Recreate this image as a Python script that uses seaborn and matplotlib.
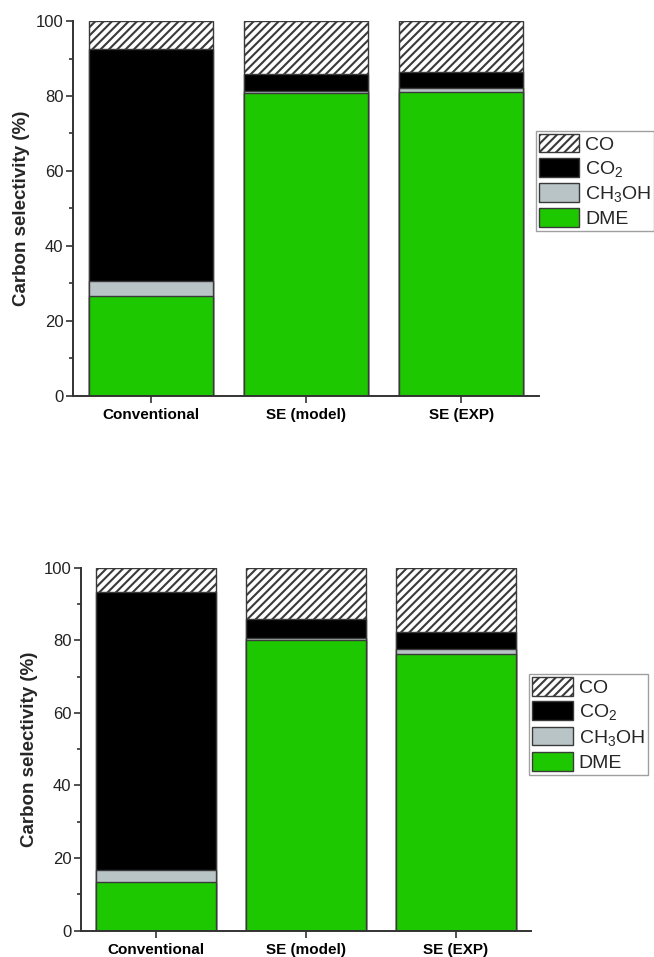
import numpy as np
import pandas as pd
import matplotlib
matplotlib.use('Agg')
import matplotlib.pyplot as plt
from matplotlib.patches import Patch
from matplotlib.ticker import MultipleLocator
import seaborn as sns

# data (carbon selectivity, %)
categories = ['Conventional', 'SE (model)', 'SE (EXP)']
species = ['CO', 'CO$_2$', 'CH$_3$OH', 'DME']

# upper panel
dme_top = [26.6, 80.7, 81.0]
meoh_top = [3.9, 0.5, 1.1]
co2_top = [62.1, 4.8, 4.2]
co_top = [7.4, 14.0, 13.7]

# lower panel
dme_bot = [13.3, 80.1, 76.1]
meoh_bot = [3.4, 0.4, 1.4]
co2_bot = [76.5, 5.4, 4.8]
co_bot = [6.8, 14.1, 17.7]

green = '#1ec800'
grey = '#b8c4c6'
edge = '#3a3a3a'

sns.set_style('ticks')
plt.rcParams['font.family'] = ['Liberation Sans', 'DejaVu Sans']
plt.rcParams['mathtext.default'] = 'regular'
plt.rcParams['hatch.linewidth'] = 1.5
plt.rcParams['hatch.color'] = 'black'


def draw_panel(ax, dme, meoh, co2, co):
    df = pd.DataFrame({'cat': categories, 'DME': dme, 'CH3OH': meoh,
                       'CO2': co2, 'CO': co})
    # cumulative heights, drawn from the tallest layer down
    df['c1'] = df['DME']
    df['c2'] = df['c1'] + df['CH3OH']
    df['c3'] = df['c2'] + df['CO2']
    df['c4'] = df['c3'] + df['CO']
    layers = [('c4', 'white', '////'), ('c3', 'black', None),
              ('c2', grey, None), ('c1', green, None)]
    for col, fc, hatch in layers:
        n0 = len(ax.patches)
        sns.barplot(data=df, x='cat', y=col, color=fc, saturation=1,
                    width=0.8, edgecolor=edge, linewidth=1.0, ax=ax)
        if hatch:
            for p in ax.patches[n0:]:
                p.set_hatch(hatch)
    ax.set_xlim(-0.5, 2.5)
    ax.set_ylim(0, 100)
    ax.yaxis.set_major_locator(MultipleLocator(20))
    ax.yaxis.set_minor_locator(MultipleLocator(10))
    ax.tick_params(axis='y', which='major', labelsize=12, length=5,
                   width=1.2, colors='#333333', direction='out', pad=2)
    ax.tick_params(axis='y', which='minor', length=3, width=1.2,
                   colors='#333333', direction='out')
    ax.tick_params(axis='x', length=5, width=1.2, colors='#333333',
                   labelsize=11, pad=4)
    for t in ax.get_xticklabels():
        t.set_fontweight('bold')
        t.set_color('black')
    for t in ax.get_yticklabels():
        t.set_color('#222222')
    ax.set_xlabel('')
    ax.set_ylabel('Carbon selectivity (%)', fontsize=13.5,
                  fontweight='bold', labelpad=4)
    for s in ['top', 'right']:
        ax.spines[s].set_visible(False)
    for s in ['left', 'bottom']:
        ax.spines[s].set_linewidth(1.4)
        ax.spines[s].set_color('#333333')


fig = plt.figure(figsize=(6.54, 9.57), dpi=100)
ax1 = fig.add_axes([0.1116, 0.5865, 0.7125, 0.3915])
ax2 = fig.add_axes([0.1239, 0.0275, 0.688, 0.3793])

draw_panel(ax1, dme_top, meoh_top, co2_top, co_top)
draw_panel(ax2, dme_bot, meoh_bot, co2_bot, co_bot)

handles = [Patch(facecolor='white', edgecolor=edge, hatch='////'),
           Patch(facecolor='black', edgecolor=edge),
           Patch(facecolor=grey, edgecolor=edge),
           Patch(facecolor=green, edgecolor=edge)]

for ax, anchor in [(ax1, (0.819, 0.8634)), (ax2, (0.809, 0.2954))]:
    leg = ax.legend(handles, species, loc='upper left',
                    bbox_to_anchor=anchor, bbox_transform=fig.transFigure,
                    fontsize=14, frameon=True, fancybox=False,
                    handlelength=2.1, handleheight=1.1, handletextpad=0.3,
                    labelspacing=0.22, borderpad=0.15, borderaxespad=0)
    leg.get_frame().set_edgecolor('#888888')
    leg.get_frame().set_linewidth(1.0)

fig.savefig('out.png', dpi=100)
